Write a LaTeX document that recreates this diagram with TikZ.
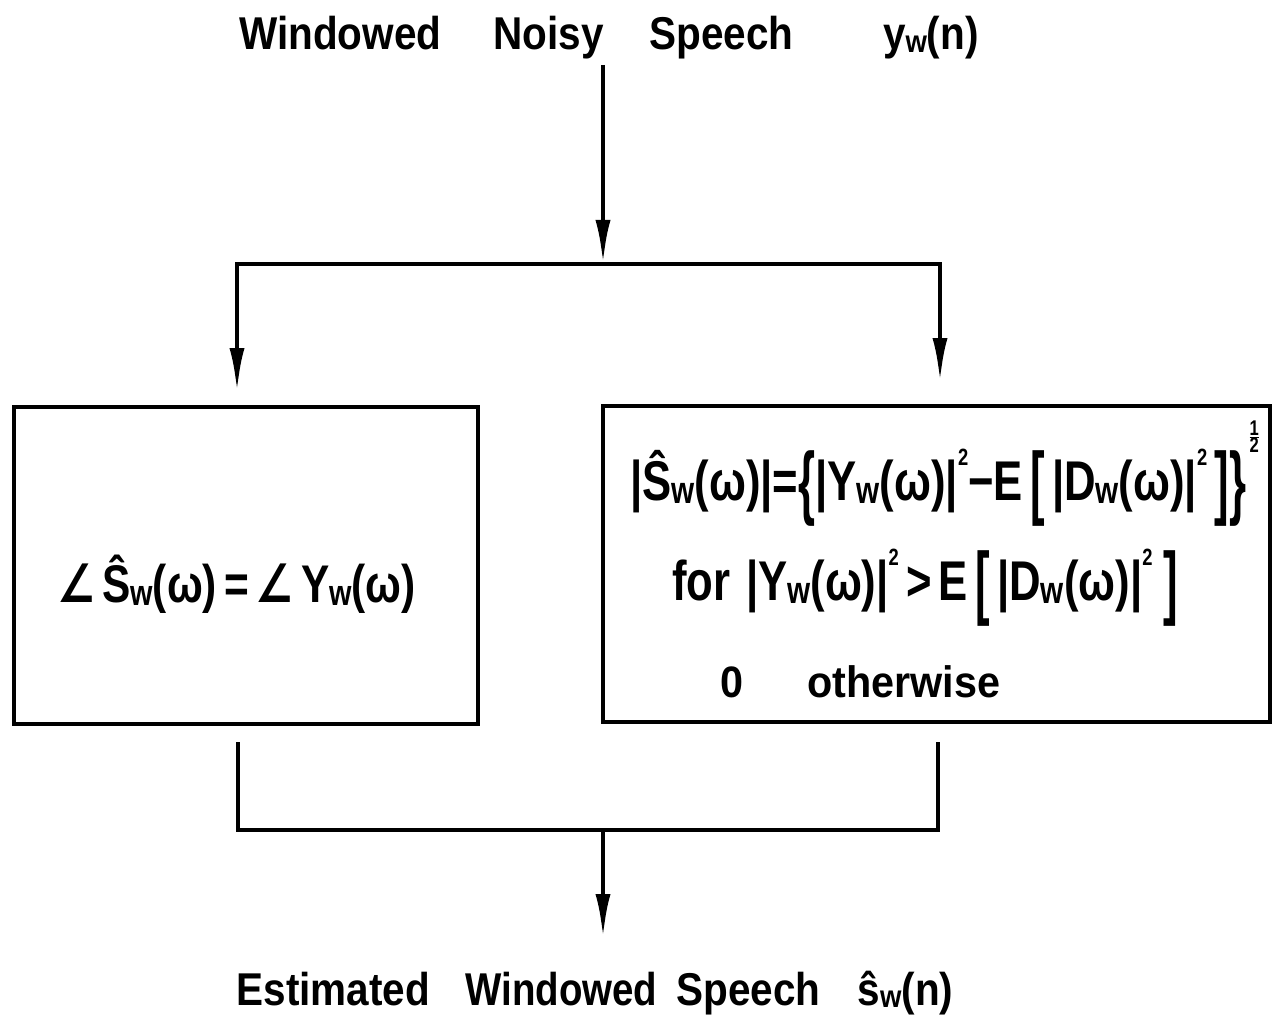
\documentclass[tikz,border=0pt]{standalone}
\usepackage{fontspec}
\setmainfont{Liberation Sans}
\newfontfamily\symfont{DejaVu Sans}
\usetikzlibrary{arrows.meta}

% small lowered index letter, e.g. the w in Y_w
\newcommand\lw[1]{\raisebox{-0.06em}{\scalebox{0.68}{#1}}}
% small raised square
\newcommand\sqr{\raisebox{0.62em}{\scalebox{0.42}{2}}}
% stretched delimiter centred on the capitals
\newcommand\tall[2]{\raisebox{0.1em}{$\vcenter{\hbox{\scalebox{1}[#1]{#2}}}$}}
\newcommand\ang{{\symfont\bfseries ∠}}
\newcommand\half{\kern4pt\raisebox{1.08em}{\scalebox{0.38}{$\frac{\mbox{\bfseries 1}}{\mbox{\bfseries 2}}$}}}

\begin{document}
\begin{tikzpicture}[x=1pt,y=-1pt,
  conn/.style={line width=4.5pt},
  arr/.style={conn,-{Latex[length=44pt,width=15pt]}},
  panel/.style={draw,line width=4pt,anchor=north west,inner sep=0pt},
  lbl/.style={font=\fontsize{46}{55}\selectfont\bfseries,inner sep=0pt,anchor=base},
  eq/.style={font=\fontsize{56}{66}\selectfont\bfseries,inner sep=0pt,anchor=base west}]
\useasboundingbox (0,0) rectangle (1274,1016);

% input and output labels
\node[lbl] (src) at (609,50) {\scalebox{0.88}[1]{Windowed\hspace{59pt}Noisy\hspace{52pt}Speech\hspace{102pt}y\lw{w}(n)}};
\node[lbl] (dst) at (595,1005) {\scalebox{0.88}[1]{Estimated\hspace{40pt}\scalebox{0.95}[1]{Windowed}\hspace{22pt}Speech\hspace{42pt}ŝ\lw{w}(n)}};

% the two processing blocks
\node[panel,minimum width=464pt,minimum height=317pt] (phase) at (12,405) {};
\node[panel,minimum width=667pt,minimum height=316pt] (mag) at (601,404) {};

\node[eq,font=\fontsize{53}{63}\selectfont\bfseries] (phaseeq) at (57,602) {\scalebox{0.8}[1]{\ang\,Ŝ\lw{w}(ω)\,=\,\ang\,Y\lw{w}(ω)}};

\node[eq] (magA) at (630,500) {\scalebox{0.78}[1]{|Ŝ\lw{w}(ω)|=\tall{1.45}{\{}|Y\lw{w}(ω)|\sqr−E\,\tall{1.45}{[}\,|D\lw{w}(ω)|\sqr\,\tall{1.45}{]}\tall{1.45}{\}}\half}};
\node[eq] (magB) at (672,600) {\scalebox{0.78}[1]{for\hspace{20pt}|Y\lw{w}(ω)|\sqr\,>\,E\,\tall{1.45}{[}\,|D\lw{w}(ω)|\sqr\hspace{14pt}\tall{1.45}{]}}};
\node[eq,font=\fontsize{44}{52}\selectfont\bfseries] (magC) at (720,697) {\scalebox{0.94}[1]{0\hspace{68pt}otherwise}};

% connectors
\coordinate (srcfoot) at (603,65);
\coordinate (split) at (603,264);
\coordinate (phaseIn) at (237,392);
\coordinate (magIn) at (940,382);
\coordinate (phaseOut) at (238,742);
\coordinate (magOut) at (938,742);
\coordinate (merge) at (603,830);
\coordinate (dsthead) at (603,938);

\draw[arr] (srcfoot) -- (split);
\draw[arr] (split) -| (phaseIn);
\draw[arr] (split) -| (magIn);
\draw[conn] (phaseOut) |- (merge) -| (magOut);
\draw[arr] (merge) -- (dsthead);
\end{tikzpicture}
\end{document}
